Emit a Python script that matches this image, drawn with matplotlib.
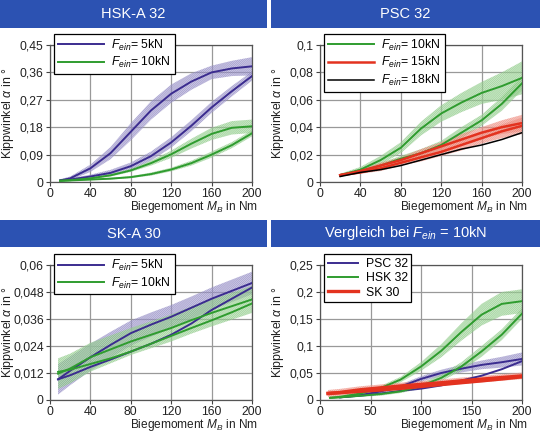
import numpy as np
import matplotlib
matplotlib.use('Agg')
import matplotlib.pyplot as plt
from matplotlib.patches import Rectangle

plt.rcParams['font.family'] = ['Liberation Sans', 'DejaVu Sans']
plt.rcParams['mathtext.fontset'] = 'custom'
plt.rcParams['mathtext.it'] = 'Liberation Sans:italic'
plt.rcParams['mathtext.rm'] = 'Liberation Sans'
plt.rcParams['hatch.linewidth'] = 0.5

# %% data

# HSK-A 32
x_hsk = [10, 20, 40, 60, 80, 100, 120, 140, 160, 180, 200]
hsk5_up = [0.005, 0.012, 0.045, 0.095, 0.165, 0.235, 0.29, 0.33, 0.36, 0.373, 0.38]
hsk5_lo = [0.005, 0.008, 0.018, 0.03, 0.052, 0.085, 0.13, 0.185, 0.245, 0.298, 0.348]
hsk5_up_band = [0.004, 0.006, 0.012, 0.02, 0.028, 0.03, 0.03, 0.027, 0.022, 0.025, 0.03]
hsk5_lo_band = [0.003, 0.004, 0.006, 0.01, 0.012, 0.015, 0.017, 0.018, 0.018, 0.017, 0.015]
hsk10_up = [0.004, 0.006, 0.012, 0.022, 0.038, 0.062, 0.091, 0.126, 0.158, 0.178, 0.183]
hsk10_lo = [0.004, 0.005, 0.008, 0.011, 0.016, 0.026, 0.041, 0.062, 0.09, 0.121, 0.16]
hsk10_up_band = [0.002, 0.002, 0.003, 0.004, 0.005, 0.008, 0.012, 0.016, 0.02, 0.022, 0.022]
hsk10_lo_band = [0.002, 0.002, 0.002, 0.003, 0.003, 0.005, 0.006, 0.008, 0.01, 0.01, 0.01]

# PSC 32
x_psc = [20, 40, 60, 80, 100, 120, 140, 160, 180, 200]
psc10_up = [0.005, 0.009, 0.016, 0.025, 0.039, 0.05, 0.058, 0.065, 0.07, 0.076]
psc10_lo = [0.005, 0.008, 0.012, 0.017, 0.021, 0.027, 0.036, 0.045, 0.057, 0.072]
psc10_up_band = [0.001, 0.002, 0.003, 0.004, 0.005, 0.006, 0.007, 0.008, 0.01, 0.012]
psc10_lo_band = [0.001, 0.001, 0.002, 0.002, 0.003, 0.003, 0.004, 0.004, 0.005, 0.005]
psc15_up = [0.005, 0.008, 0.012, 0.016, 0.021, 0.026, 0.031, 0.036, 0.04, 0.043]
psc15_lo = [0.005, 0.007, 0.01, 0.014, 0.018, 0.022, 0.027, 0.032, 0.037, 0.041]
psc15_band = [0.001, 0.001, 0.002, 0.002, 0.003, 0.003, 0.004, 0.004, 0.005, 0.006]
psc18 = [0.004, 0.007, 0.009, 0.012, 0.016, 0.02, 0.024, 0.027, 0.031, 0.036]

# SK-A 30
x_sk = [8, 20, 40, 60, 80, 100, 120, 140, 160, 180, 200]
sk5_up = [0.0092, 0.013, 0.019, 0.0245, 0.0297, 0.0335, 0.037, 0.041, 0.045, 0.0485, 0.052]
sk5_lo = [0.0092, 0.011, 0.0147, 0.018, 0.0215, 0.025, 0.029, 0.034, 0.040, 0.045, 0.050]
sk5_band = [0.0068, 0.0064, 0.006, 0.0058, 0.0056, 0.0054, 0.0052, 0.005, 0.005, 0.005, 0.005]
sk10_up = [0.0117, 0.014, 0.019, 0.0225, 0.026, 0.029, 0.032, 0.0355, 0.0387, 0.0417, 0.0447]
sk10_lo = [0.0125, 0.0135, 0.016, 0.0185, 0.0215, 0.025, 0.0285, 0.032, 0.0354, 0.039, 0.0429]
sk10_band = [0.0068, 0.0066, 0.0064, 0.0062, 0.006, 0.006, 0.006, 0.006, 0.006, 0.006, 0.006]

titles = ['HSK-A 32', 'PSC 32', 'SK-A 30', 'Vergleich bei $F_{ein}$ = 10kN']
yticks_hsk = [0, 0.09, 0.18, 0.27, 0.36, 0.45]
ylabels_hsk = ['0', '0,09', '0,18', '0,27', '0,36', '0,45']
yticks_psc = [0, 0.02, 0.04, 0.06, 0.08, 0.1]
ylabels_psc = ['0', '0,02', '0,04', '0,06', '0,08', '0,1']
yticks_sk = [0, 0.012, 0.024, 0.036, 0.048, 0.06]
ylabels_sk = ['0', '0,012', '0,024', '0,036', '0,048', '0,06']
yticks_cmp = [0, 0.05, 0.1, 0.15, 0.2, 0.25]
ylabels_cmp = ['0', '0,05', '0,1', '0,15', '0,2', '0,25']
xticks_a = [0, 40, 80, 120, 160, 200]
xticks_b = [0, 50, 100, 150, 200]

purple = '#3b2c8f'
green = '#2f9c2f'
red = '#e3321f'
header_blue = '#2c52b2'
purple_tint = '#b3aed8'
green_tint = '#b2dcaa'
red_tint = '#f3aca2'

# %% figure

fig = plt.figure(figsize=(5.4, 4.34), dpi=100)
W, H = 540, 434


def px_axes(left, top, right, bottom):
    return fig.add_axes([left / W, 1 - bottom / H, (right - left) / W, (bottom - top) / H])


def header(left, top, right, bottom, text):
    fig.patches.append(Rectangle((left / W, 1 - bottom / H), (right - left) / W, (bottom - top) / H,
                                 transform=fig.transFigure, facecolor=header_blue, edgecolor='none'))
    fig.text((left + right) / 2 / W, 1 - (top + bottom) / 2 / H, text, color='white',
             fontsize=10.5, ha='center', va='center')


def band(ax, x, y, half, color, tint):
    y = np.array(y)
    half = np.array(half)
    ax.fill_between(x, y - half, y + half, facecolor=tint, edgecolor='none', alpha=0.6, zorder=2)
    ax.fill_between(x, y - half, y + half, facecolor='none', edgecolor=color, hatch='/' * 16,
                    linewidth=0, alpha=0.3, zorder=2)


def style(ax, yticks, ylabels, xticks, ylim):
    ax.set_xlim(0, 200)
    ax.set_ylim(ylim)
    ax.set_xticks(xticks)
    ax.set_xticklabels([str(t) for t in xticks])
    ax.set_yticks(yticks)
    ax.set_yticklabels(ylabels)
    ax.tick_params(labelsize=8.8, length=3, width=0.8, color='#444444', labelcolor='#222222', pad=1.5)
    ax.grid(True, color='#999999', linewidth=0.9)
    ax.set_axisbelow(True)
    for s in ax.spines.values():
        s.set_color('#555555')
        s.set_linewidth(0.9)
    ax.set_xlabel('Biegemoment $M_B$ in Nm', fontsize=8.6, color='#222222', ha='right')
    ax.xaxis.set_label_coords(1.03, -0.125)
    ax.set_ylabel('Kippwinkel $\\alpha$ in °', fontsize=8.8, color='#222222')
    ax.yaxis.set_label_coords(-0.17, 0.5)


def legend(ax, hl=3.8):
    leg = ax.legend(loc='upper left', bbox_to_anchor=(0.02, 1.08), fontsize=8.8, handlelength=hl,
                    borderpad=0.3, labelspacing=0.2, handletextpad=0.6, borderaxespad=0,
                    fancybox=False, framealpha=1)
    leg.get_frame().set_edgecolor('black')
    leg.get_frame().set_linewidth(0.9)
    leg.set_zorder(10)


header(0, 0, 267, 28, titles[0])
header(271, 0, 540, 28, titles[1])
header(0, 220, 267, 247, titles[2])
header(271, 220, 540, 247, titles[3])

# HSK-A 32
ax1 = px_axes(50, 45, 252, 182)
band(ax1, x_hsk, hsk5_up, hsk5_up_band, purple, purple_tint)
band(ax1, x_hsk, hsk5_lo, hsk5_lo_band, purple, purple_tint)
band(ax1, x_hsk, hsk10_up, hsk10_up_band, green, green_tint)
band(ax1, x_hsk, hsk10_lo, hsk10_lo_band, green, green_tint)
ax1.plot(x_hsk, hsk5_up, color=purple, lw=1.4, label='$F_{ein}$= 5kN', zorder=3)
ax1.plot(x_hsk, hsk5_lo, color=purple, lw=1.4, zorder=3)
ax1.plot(x_hsk, hsk10_up, color=green, lw=1.4, label='$F_{ein}$= 10kN', zorder=3)
ax1.plot(x_hsk, hsk10_lo, color=green, lw=1.4, zorder=3)
style(ax1, yticks_hsk, ylabels_hsk, xticks_a, (0, 0.45))
legend(ax1)

# PSC 32
ax2 = px_axes(320, 45, 522, 182)
band(ax2, x_psc, psc10_up, psc10_up_band, green, green_tint)
band(ax2, x_psc, psc10_lo, psc10_lo_band, green, green_tint)
band(ax2, x_psc, psc15_up, psc15_band, red, red_tint)
band(ax2, x_psc, psc15_lo, psc15_band, red, red_tint)
ax2.plot(x_psc, psc10_up, color=green, lw=1.4, label='$F_{ein}$= 10kN', zorder=3)
ax2.plot(x_psc, psc10_lo, color=green, lw=1.4, zorder=3)
ax2.plot(x_psc, psc15_up, color=red, lw=1.8, label='$F_{ein}$= 15kN', zorder=3)
ax2.plot(x_psc, psc15_lo, color=red, lw=1.8, zorder=3)
ax2.plot(x_psc, psc18, color='black', lw=1.1, label='$F_{ein}$= 18kN', zorder=3)
style(ax2, yticks_psc, ylabels_psc, xticks_a, (0, 0.1))
legend(ax2)

# SK-A 30
ax3 = px_axes(50, 265, 252, 400)
band(ax3, x_sk, sk5_up, sk5_band, purple, purple_tint)
band(ax3, x_sk, sk10_up, sk10_band, green, green_tint)
ax3.plot(x_sk, sk5_up, color=purple, lw=1.4, label='$F_{ein}$= 5kN', zorder=3)
ax3.plot(x_sk, sk5_lo, color=purple, lw=1.4, zorder=3)
ax3.plot(x_sk, sk10_up, color=green, lw=1.4, label='$F_{ein}$= 10kN', zorder=3)
ax3.plot(x_sk, sk10_lo, color=green, lw=1.4, zorder=3)
style(ax3, yticks_sk, ylabels_sk, xticks_a, (0, 0.06))
legend(ax3)

# Vergleich
ax4 = px_axes(320, 265, 522, 400)
band(ax4, x_psc, psc10_up, psc10_up_band, purple, purple_tint)
band(ax4, x_hsk, hsk10_up, hsk10_up_band, green, green_tint)
band(ax4, x_hsk, hsk10_lo, hsk10_lo_band, green, green_tint)
band(ax4, x_sk, sk10_up, sk10_band, red, red_tint)
ax4.plot(x_psc, psc10_up, color=purple, lw=1.4, label='PSC 32', zorder=3)
ax4.plot(x_psc, psc10_lo, color=purple, lw=1.4, zorder=3)
ax4.plot(x_hsk, hsk10_up, color=green, lw=1.4, label='HSK 32', zorder=3)
ax4.plot(x_hsk, hsk10_lo, color=green, lw=1.4, zorder=3)
ax4.plot(x_sk, sk10_up, color=red, lw=2.4, label='SK 30', zorder=3)
ax4.plot(x_sk, sk10_lo, color=red, lw=2.4, zorder=3)
style(ax4, yticks_cmp, ylabels_cmp, xticks_b, (0, 0.25))
legend(ax4, hl=2.5)

fig.savefig('out.png', dpi=100)
